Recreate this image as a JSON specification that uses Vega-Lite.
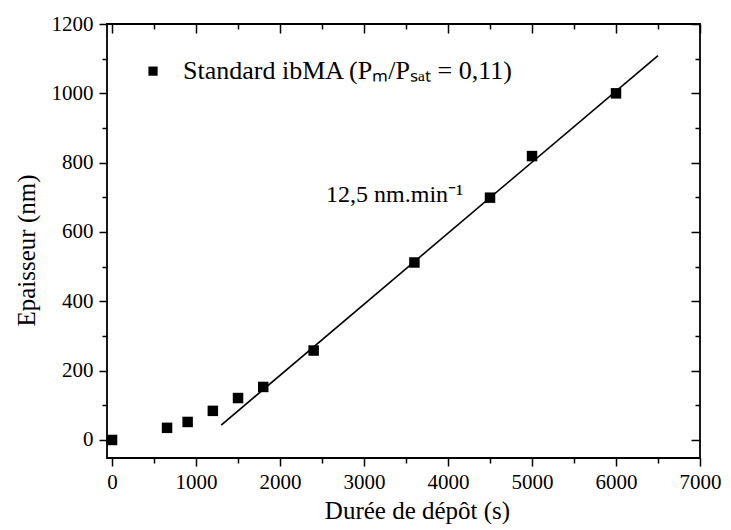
{
  "$schema": "https://vega.github.io/schema/vega-lite/v6.json",
  "width": 593,
  "height": 434,
  "autosize": {"type": "none"},
  "padding": {"left": 107, "top": 24, "right": 31, "bottom": 72},
  "background": "white",
  "config": {
    "view": {"stroke": "#000", "strokeWidth": 1.8},
    "font": "Liberation Serif, serif",
    "axis": {
      "labelFont": "Liberation Serif, serif",
      "labelFontSize": 21,
      "labelColor": "#000",
      "titleFont": "Liberation Serif, serif",
      "titleFontSize": 25,
      "titleFontWeight": "normal",
      "titleColor": "#000",
      "tickColor": "#000",
      "tickWidth": 1.5,
      "domain": false,
      "grid": false,
      "labelOverlap": false,
      "labelFlush": false
    }
  },
  "datasets": {
    "pts": [
      {"t": 0, "e": 0},
      {"t": 655, "e": 35},
      {"t": 900, "e": 52},
      {"t": 1200, "e": 84},
      {"t": 1500, "e": 121},
      {"t": 1800, "e": 153},
      {"t": 2400, "e": 258},
      {"t": 3600, "e": 512},
      {"t": 4500, "e": 699},
      {"t": 5000, "e": 819},
      {"t": 6000, "e": 1000}
    ],
    "fit": [
      {"t": 1300, "e": 43},
      {"t": 6500, "e": 1109}
    ],
    "leg": [
      {"t": 488, "e": 1064, "label": "Standard ibMA (Pₘ/Pₛₐₜ = 0,11)", "tx": 845}
    ],
    "ann": [
      {"t": 2548, "e": 707, "label": "12,5 nm.min⁻¹"}
    ]
  },
  "resolve": {"axis": {"x": "independent", "y": "independent"}},
  "layer": [
    {
      "data": {"name": "pts"},
      "mark": {"type": "square", "size": 110, "color": "#000", "opacity": 1},
      "encoding": {
        "x": {"field": "t", "type": "quantitative",
          "scale": {"domain": [-60, 7000], "nice": false, "zero": false},
          "axis": {"orient": "bottom", "values": [0, 1000, 2000, 3000, 4000, 5000, 6000, 7000], "format": "d", "tickSize": 8, "labelPadding": 5, "title": "Durée de dépôt (s)", "titlePadding": 6, "titleX": 310}},
        "y": {"field": "e", "type": "quantitative",
          "scale": {"domain": [-52, 1200], "nice": false, "zero": false},
          "axis": {"orient": "left", "values": [0, 200, 400, 600, 800, 1000, 1200], "format": "d", "tickSize": 8, "labelPadding": 6, "title": "Epaisseur (nm)", "titlePadding": 12, "titleY": 226}}
      }
    },
    {
      "data": {"name": "fit"},
      "mark": {"type": "line", "color": "#000", "strokeWidth": 1.6},
      "encoding": {
        "x": {"field": "t", "type": "quantitative",
          "scale": {"domain": [-60, 7000], "nice": false, "zero": false},
          "axis": {"orient": "bottom", "values": [500, 1500, 2500, 3500, 4500, 5500, 6500], "tickSize": 5, "labels": false, "title": null}},
        "y": {"field": "e", "type": "quantitative",
          "scale": {"domain": [-52, 1200], "nice": false, "zero": false},
          "axis": {"orient": "left", "values": [100, 300, 500, 700, 900, 1100], "tickSize": 5, "labels": false, "title": null}}
      }
    },
    {
      "data": {"name": "leg"},
      "mark": {"type": "square", "size": 85, "color": "#000", "opacity": 1},
      "encoding": {
        "x": {"field": "t", "type": "quantitative",
          "scale": {"domain": [-60, 7000], "nice": false, "zero": false},
          "axis": {"orient": "top", "values": [0, 1000, 2000, 3000, 4000, 5000, 6000, 7000], "tickSize": -9, "labels": false, "title": null}},
        "y": {"field": "e", "type": "quantitative",
          "scale": {"domain": [-52, 1200], "nice": false, "zero": false},
          "axis": {"orient": "right", "values": [0, 200, 400, 600, 800, 1000, 1200], "tickSize": -9, "labels": false, "title": null}}
      }
    },
    {
      "data": {"name": "leg"},
      "mark": {"type": "text", "align": "left", "baseline": "middle", "font": "Liberation Serif, serif", "fontSize": 26, "color": "#000"},
      "encoding": {
        "x": {"field": "tx", "type": "quantitative",
          "scale": {"domain": [-60, 7000], "nice": false, "zero": false},
          "axis": {"orient": "top", "values": [500, 1500, 2500, 3500, 4500, 5500, 6500], "tickSize": -5, "labels": false, "title": null}},
        "y": {"field": "e", "type": "quantitative",
          "scale": {"domain": [-52, 1200], "nice": false, "zero": false},
          "axis": {"orient": "right", "values": [100, 300, 500, 700, 900, 1100], "tickSize": -5, "labels": false, "title": null}},
        "text": {"field": "label"}
      }
    },
    {
      "data": {"name": "ann"},
      "mark": {"type": "text", "align": "left", "baseline": "middle", "font": "Liberation Serif, serif", "fontSize": 24, "color": "#000"},
      "encoding": {
        "x": {"field": "t", "type": "quantitative",
          "scale": {"domain": [-60, 7000], "nice": false, "zero": false}, "axis": null},
        "y": {"field": "e", "type": "quantitative",
          "scale": {"domain": [-52, 1200], "nice": false, "zero": false}, "axis": null},
        "text": {"field": "label"}
      }
    }
  ]
}
